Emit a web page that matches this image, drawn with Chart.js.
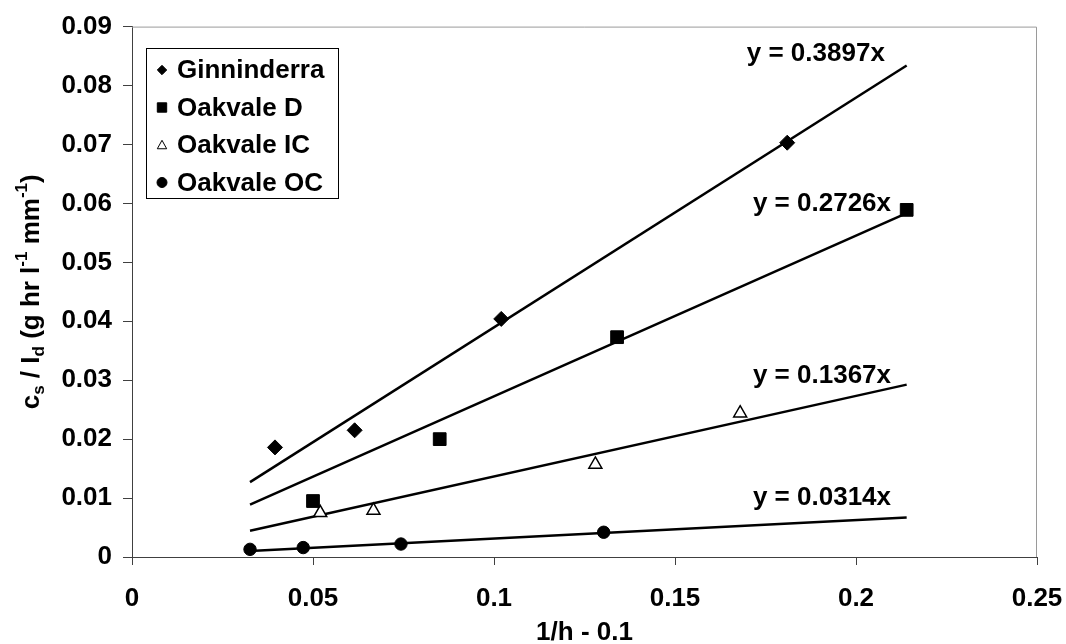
<!DOCTYPE html>
<html lang="en">
<head>
    <meta charset="UTF-8">
    <title>Sediment rating: cs / Id against 1/h - 0.1</title>
    <script src="https://cdn.jsdelivr.net/npm/chart.js@4.4.0/dist/chart.umd.min.js"></script>
    <style>
        * { margin: 0; padding: 0; box-sizing: border-box; }
        body { background: #ffffff; }
        .chart-box { width: 1066px; height: 644px; position: relative; }
    </style>
</head>
<body>
    <div class="chart-box">
        <canvas id="ratingChart"></canvas>
    </div>

    <script>
        // Data
        const seriesNames = ['Ginninderra', 'Oakvale D', 'Oakvale IC', 'Oakvale OC'];

        const ginX = [0.0395, 0.0615, 0.102, 0.181];
        const ginY = [0.0186, 0.0215, 0.0404, 0.0703];

        const oakDX = [0.050, 0.085, 0.134, 0.214];
        const oakDY = [0.0095, 0.0200, 0.0373, 0.0589];

        const oakICX = [0.052, 0.0667, 0.128, 0.168];
        const oakICY = [0.0075, 0.0079, 0.0157, 0.0244];

        const oakOCX = [0.0326, 0.0473, 0.0743, 0.1303];
        const oakOCY = [0.0013, 0.0016, 0.0022, 0.0042];

        // fitted slopes (y = a x), trend lines drawn over this x range
        const slopes = [0.3897, 0.2726, 0.1367, 0.0314];
        const trendRange = [0.0326, 0.214];

        const xTicks = [0, 0.05, 0.1, 0.15, 0.2, 0.25];
        const yTicks = [0, 0.01, 0.02, 0.03, 0.04, 0.05, 0.06, 0.07, 0.08, 0.09];

        // where the equation labels sit (data units)
        const eqLabelAt = [[0.1889, 0.0853], [0.1906, 0.0600], [0.1906, 0.0307], [0.1906, 0.0100]];

        const FONT = '"Liberation Sans", Arial, sans-serif';
        const AXIS = '#404040';

        const markers = [
            { style: 'rectRot', radius: 7.5, fill: '#000000' },
            { style: 'rect', radius: 9, fill: '#000000' },
            { style: 'triangle', radius: 7.5, fill: '#ffffff' },
            { style: 'circle', radius: 6.2, fill: '#000000' }
        ];

        const pts = (xs, ys) => xs.map((x, i) => ({ x: x, y: ys[i] }));
        const allPoints = [pts(ginX, ginY), pts(oakDX, oakDY), pts(oakICX, oakICY), pts(oakOCX, oakOCY)];

        const datasets = [];
        slopes.forEach((a, i) => {
            datasets.push({
                label: seriesNames[i] + ' trend',
                data: trendRange.map(x => ({ x: x, y: a * x })),
                showLine: true,
                borderColor: '#000000',
                borderWidth: 2.5,
                pointRadius: 0,
                order: 2
            });
        });
        allPoints.forEach((d, i) => {
            datasets.push({
                label: seriesNames[i],
                data: d,
                showLine: false,
                pointStyle: markers[i].style,
                pointRadius: markers[i].radius,
                backgroundColor: markers[i].fill,
                borderColor: '#000000',
                borderWidth: i === 2 ? 1.5 : 1,
                order: 1
            });
        });

        function markerPath(ctx, style, x, y, s) {
            ctx.beginPath();
            if (style === 'rectRot') {
                ctx.moveTo(x, y - s); ctx.lineTo(x + s, y); ctx.lineTo(x, y + s); ctx.lineTo(x - s, y);
                ctx.closePath();
            } else if (style === 'rect') {
                ctx.rect(x - s, y - s, 2 * s, 2 * s);
            } else if (style === 'triangle') {
                ctx.moveTo(x, y - s); ctx.lineTo(x + s, y + s * 0.8); ctx.lineTo(x - s, y + s * 0.8);
                ctx.closePath();
            } else {
                ctx.arc(x, y, s, 0, Math.PI * 2);
            }
        }

        const extras = {
            id: 'extras',
            afterDraw(chart) {
                const ctx = chart.ctx;
                const a = chart.chartArea;
                const xs = chart.scales.x, ys = chart.scales.y;
                ctx.save();

                // plot frame on top and right
                ctx.strokeStyle = '#9a9a9a';
                ctx.lineWidth = 1;
                ctx.beginPath();
                ctx.moveTo(a.left, a.top + 0.5);
                ctx.lineTo(a.right - 0.5, a.top + 0.5);
                ctx.lineTo(a.right - 0.5, a.bottom);
                ctx.stroke();

                // equation labels
                ctx.fillStyle = '#000000';
                ctx.font = 'bold 26px ' + FONT;
                ctx.textAlign = 'center';
                ctx.textBaseline = 'middle';
                slopes.forEach((s, i) => {
                    ctx.fillText('y = ' + s + 'x', xs.getPixelForValue(eqLabelAt[i][0]), ys.getPixelForValue(eqLabelAt[i][1]));
                });

                // legend
                const lx = 146, ly = 48, lw = 192, lh = 150;
                ctx.fillStyle = '#ffffff';
                ctx.fillRect(lx, ly, lw, lh);
                ctx.strokeStyle = '#000000';
                ctx.lineWidth = 1;
                ctx.strokeRect(lx + 0.5, ly + 0.5, lw, lh);
                ctx.textAlign = 'left';
                seriesNames.forEach((name, i) => {
                    const yy = ly + 22 + i * 37.5;
                    markerPath(ctx, markers[i].style, 162, yy, markers[i].style === 'circle' ? 5 : 4.7);
                    ctx.fillStyle = markers[i].fill;
                    ctx.fill();
                    ctx.strokeStyle = '#000000';
                    ctx.lineWidth = 1;
                    ctx.stroke();
                    ctx.fillStyle = '#000000';
                    ctx.fillText(name, 177, yy + 1);
                });

                // x title
                ctx.textAlign = 'center';
                ctx.fillText('1/h - 0.1', (a.left + a.right) / 2, 633);

                // y title with sub / superscripts
                const parts = [['c', ''], ['s', 'sub'], [' / I', ''], ['d', 'sub'], [' (g hr l', ''], ['-1', 'sup'],
                               [' mm', ''], ['-1', 'sup'], [')', '']];
                const big = 'bold 26px ' + FONT, small = 'bold 17px ' + FONT;
                let w = 0;
                parts.forEach(p => { ctx.font = p[1] ? small : big; w += ctx.measureText(p[0]).width; });
                ctx.translate(32, (a.top + a.bottom) / 2);
                ctx.rotate(-Math.PI / 2);
                ctx.textAlign = 'left';
                let x = -w / 2;
                parts.forEach(p => {
                    ctx.font = p[1] ? small : big;
                    const dy = p[1] === 'sub' ? 7 : (p[1] === 'sup' ? -10 : 0);
                    ctx.fillText(p[0], x, dy);
                    x += ctx.measureText(p[0]).width;
                });
                ctx.restore();
            }
        };

        const fmt = v => String(+v.toFixed(2));

        new Chart(document.getElementById('ratingChart'), {
            type: 'scatter',
            data: { datasets: datasets },
            options: {
                responsive: true,
                maintainAspectRatio: false,
                animation: false,
                events: [],
                layout: { padding: { top: 24, right: 29, left: 0, bottom: 0 } },
                plugins: { legend: { display: false }, tooltip: { enabled: false } },
                scales: {
                    x: {
                        type: 'linear',
                        min: xTicks[0],
                        max: xTicks[xTicks.length - 1],
                        afterBuildTicks: s => { s.ticks = xTicks.map(v => ({ value: v })); },
                        ticks: {
                            callback: fmt,
                            color: '#000000',
                            font: { family: FONT, size: 26, weight: 'bold' },
                            padding: 18,
                            maxRotation: 0,
                            autoSkip: false
                        },
                        grid: { drawOnChartArea: false, drawTicks: true, tickLength: 8, color: AXIS },
                        border: { display: true, color: AXIS, width: 1 },
                        afterFit: s => { s.height = 87; s.paddingLeft = 0; s.paddingRight = 0; }
                    },
                    y: {
                        type: 'linear',
                        min: yTicks[0],
                        max: yTicks[yTicks.length - 1],
                        afterBuildTicks: s => { s.ticks = yTicks.map(v => ({ value: v })); },
                        ticks: {
                            callback: fmt,
                            color: '#000000',
                            font: { family: FONT, size: 26, weight: 'bold' },
                            padding: 11,
                            autoSkip: false
                        },
                        grid: { drawOnChartArea: false, drawTicks: true, tickLength: 9, color: AXIS },
                        border: { display: true, color: AXIS, width: 1 },
                        afterFit: s => { s.width = 132; }
                    }
                }
            },
            plugins: [extras]
        });
    </script>
</body>
</html>
